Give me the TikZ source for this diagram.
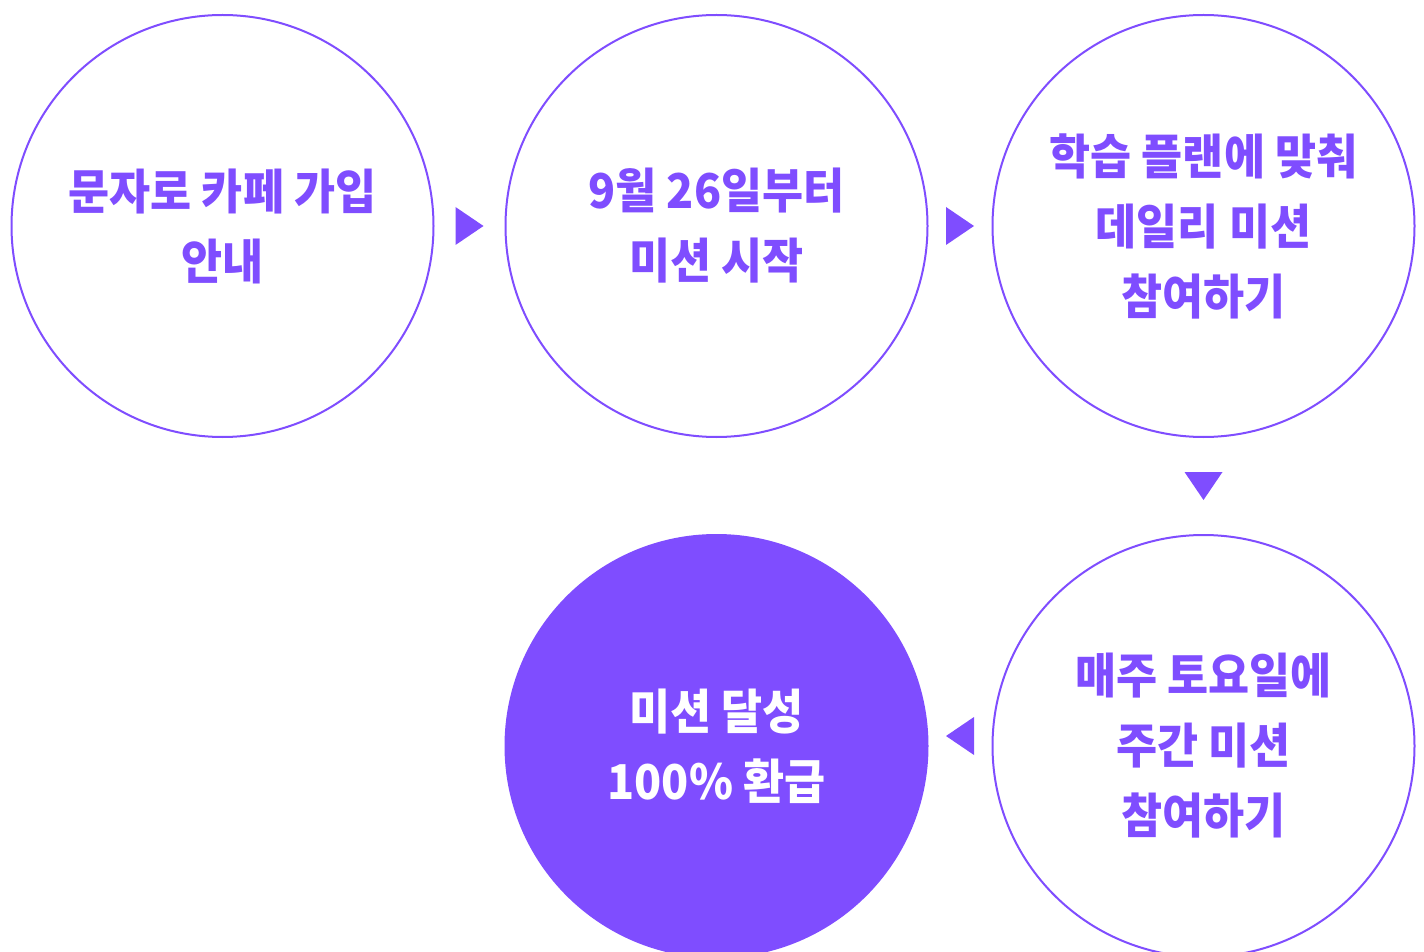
\documentclass[tikz,border=0pt]{standalone}
\usepackage{fontspec}
\newfontfamily\krfont{Noto Sans CJK KR}[FakeStretch=0.93]
\usepackage{tikz}
\usetikzlibrary{positioning,calc}

\definecolor{mission}{HTML}{7F4DFF}

\begin{document}
\begin{tikzpicture}[x=0.5pt,y=-0.5pt]
    \tikzstyle{every node}=[font=\krfont\bfseries\fontsize{24}{35}\selectfont,
                            align=center]
    \tikzset{step circle/.style={circle,
                                 minimum size=211pt,
                                 inner sep=0pt,
                                 draw=mission,
                                 line width=1pt,
                                 text=mission},
             goal circle/.style={step circle, fill=mission, text=white},
             marker/.style={fill=mission}};

    \useasboundingbox (0,0) rectangle (1424,952);

    \node[step circle] (cafe)                          at (222.5,226) {문자로 카페 가입\\안내};
    \node[step circle] (start)   [right = 35pt of cafe]   {9월 26일부터\\미션 시작};
    \node[step circle] (daily)   [right = 31.5pt of start] {학습 플랜에 맞춰\\데일리 미션\\참여하기};
    \node[step circle] (weekly)  [below = 48pt of daily]   {매주 토요일에\\주간 미션\\참여하기};
    \node[goal circle] (refund)  [left = 31.5pt of weekly] {미션 달성\\100\% 환급};

    % arrow markers between the steps
    \fill[marker] ($(cafe.east)!0.5!(start.west)$)    +(-14,-19) -- +(14,0) -- +(-14,19) -- cycle;
    \fill[marker] ($(start.east)!0.5!(daily.west)$)   +(-14,-19) -- +(14,0) -- +(-14,19) -- cycle;
    \fill[marker] ($(daily.south)!0.5!(weekly.north)$) +(-19,-14) -- +(0,14) -- +(19,-14) -- cycle;
    \fill[marker] ($(weekly.west)!0.5!(refund.east)$) +(14,-29) -- +(-14,-10) -- +(14,9) -- cycle;
\end{tikzpicture}
\end{document}
